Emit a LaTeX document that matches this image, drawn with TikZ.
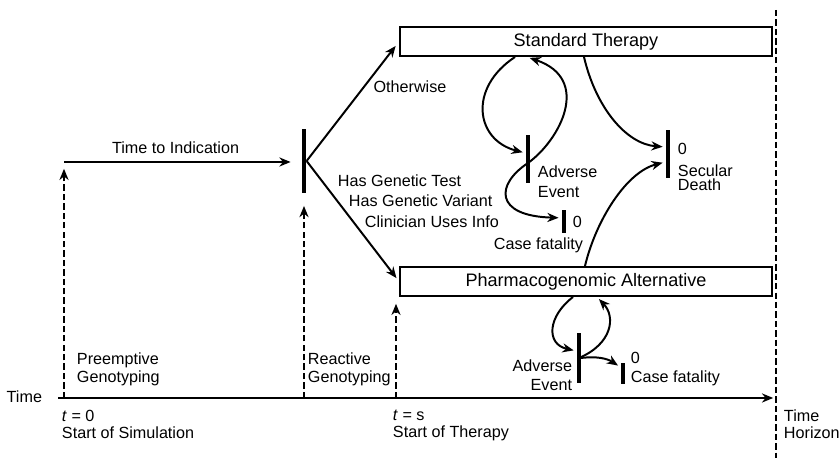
\documentclass[tikz,border=0pt]{standalone}
\usepackage{fontspec}
\setmainfont{Liberation Sans}
\usetikzlibrary{arrows.meta}

\begin{document}
\begin{tikzpicture}[
    line width=1.4pt, >={Stealth[length=8pt,width=6.5pt]},
    font=\fontsize{11.5}{12.8}\selectfont,
    therapy/.style={draw, line width=1.3pt, minimum width=9.3cm, minimum height=0.73cm,
      font=\fontsize{12.85}{14}\selectfont},
    evbar/.style={fill, inner sep=0, minimum width=2.3pt},
    gline/.style={line width=1.2pt, dash pattern=on 4.5pt off 2.2pt},
    lbl/.style={inner sep=0, align=left}]
  \useasboundingbox (0,0) rectangle (21,11.5);

  % time axis
  \node[inner sep=0, anchor=east] (time) at (1.075,1.575) {Time};
  \coordinate (origin) at (1.45,1.55);
  \coordinate (horizon) at (19.4,1.55);
  \draw[->, shorten >=2pt] (origin) -- (horizon);
  \draw[gline, line width=1pt] (19.4,11.25) -- (19.4,0.05);
  \node[lbl, anchor=north west] (tzero) at (1.525,1.275) {\textit{t} = 0\\[-0.7pt]Start of Simulation};
  \node[lbl, anchor=north west] (ts) at (9.8,1.275) {\textit{t} = s\\[-0.7pt]Start of Therapy};
  \node[lbl, anchor=north west] (th) at (19.575,1.275) {Time\\[-0.7pt]Horizon};

  % genotyping
  \coordinate (t0) at (1.6,1.55);
  \coordinate (tr) at (7.6,1.55);
  \coordinate (tstart) at (9.9,1.55);
  \coordinate (entry) at (1.6,7.45);
  \node[evbar, minimum height=1.6cm] (ind) at (7.6,7.475) {};
  \draw[gline, ->, shorten >=0.17cm] (t0) -- (entry);
  \draw[gline, ->, shorten >=0.3cm] (tr) -- (ind.south);
  \node[lbl, anchor=north west] (pre) at (1.9,2.7) {Preemptive\\Genotyping};
  \node[lbl, anchor=north west] (rea) at (7.675,2.7) {Reactive\\Genotyping};
  \draw[->, shorten >=0.27cm] (entry) -- node[pos=0.47, above, yshift=2pt] {Time to Indication} (entry -| ind.west);

  % therapies
  \node[therapy] (std) at (14.65,10.4625) {Standard Therapy};
  \node[therapy] (pgx) at (14.65,4.4625) {Pharmacogenomic Alternative};
  \draw[gline, ->, shorten >=0.17cm] (tstart) -- (tstart |- pgx.south);
  \draw[->, shorten >=4pt] (ind.east) -- (std.west);
  \draw[->, shorten >=3pt] (ind.east) -- (pgx.west);
  \node at (10.25,9.325) {Otherwise};
  \node[inner sep=0, anchor=base west] at (8.425,6.825) {Has Genetic Test};
  \node[inner sep=0, anchor=base west] at (8.7,6.325) {Has Genetic Variant};
  \node[inner sep=0, anchor=base west] at (9.1,5.8) {Clinician Uses Info};

  % standard therapy events
  \node[evbar, minimum height=1.2cm] (ae1) at (13.2,7.525) {};
  \node[evbar, minimum height=0.575cm] (cf1) at (14.1,5.9625) {};
  \node[evbar, minimum height=1.2cm] (sd) at (16.7,7.65) {};
  \node[lbl, anchor=north west] at (13.425,7.375) {Adverse\\[1.4pt]Event};
  \node[inner sep=0, anchor=base west] at (14.3,5.8) {0};
  \node[inner sep=0, anchor=base west] at (12.325,5.25) {Case fatality};
  \node[inner sep=0, anchor=base west] at (16.925,7.625) {0};
  \node[lbl, anchor=north west] at (16.925,7.4) {Secular\\[-2.8pt]Death};
  \draw[->, shorten >=2pt] ([xshift=-1.775cm]std.south) .. controls +(-1.175,-0.775) and +(-1.25,0.325) .. ([yshift=0.15cm]ae1.west);
  \draw[->, shorten >=2pt] ([yshift=-0.1cm]ae1.center) .. controls +(0.8,0.575) and +(1.625,-0.55) .. ([xshift=-1.475cm]std.south);
  \draw[->, shorten >=2pt] ([yshift=-0.1cm]ae1.center) .. controls +(-0.8,-0.525) and +(-1.7,0.05) .. ([yshift=0.09cm]cf1.west);
  \draw[->, shorten >=2pt] ([xshift=-0.05cm]std.south) .. controls +(0.3,-1.275) and +(-0.975,0.075) .. ([yshift=0.175cm]sd.west);
  \draw[->, shorten >=2pt] ([xshift=-0.025cm]pgx.north) .. controls +(0.275,1.15) and +(-0.975,-0.25) .. ([yshift=-0.2cm]sd.west);

  % pharmacogenomic events
  \node[evbar, minimum height=1.25cm] (ae2) at (14.475,2.55) {};
  \node[evbar, minimum height=0.525cm] (cf2) at (15.575,2.1625) {};
  \node[lbl, align=right, anchor=north east] at (14.325,2.525) {Adverse\\[0.7pt]Event};
  \node[inner sep=0, anchor=base west] at (15.75,2.4) {0};
  \node[inner sep=0, anchor=base west] at (15.75,1.925) {Case fatality};
  \draw[->, shorten >=2pt] ([xshift=-0.325cm]pgx.south) .. controls +(-0.625,-0.475) and +(-0.775,0.175) .. ([yshift=0.175cm]ae2.west);
  \draw[->, shorten >=2pt] (ae2.center) .. controls +(0.825,0.35) and +(0.475,-0.5) .. ([xshift=0.275cm]pgx.south);
  \draw[->, shorten >=2pt] ([xshift=0.05cm]ae2.center) to[bend left=20] ([yshift=0.16cm]cf2.west);
\end{tikzpicture}
\end{document}
